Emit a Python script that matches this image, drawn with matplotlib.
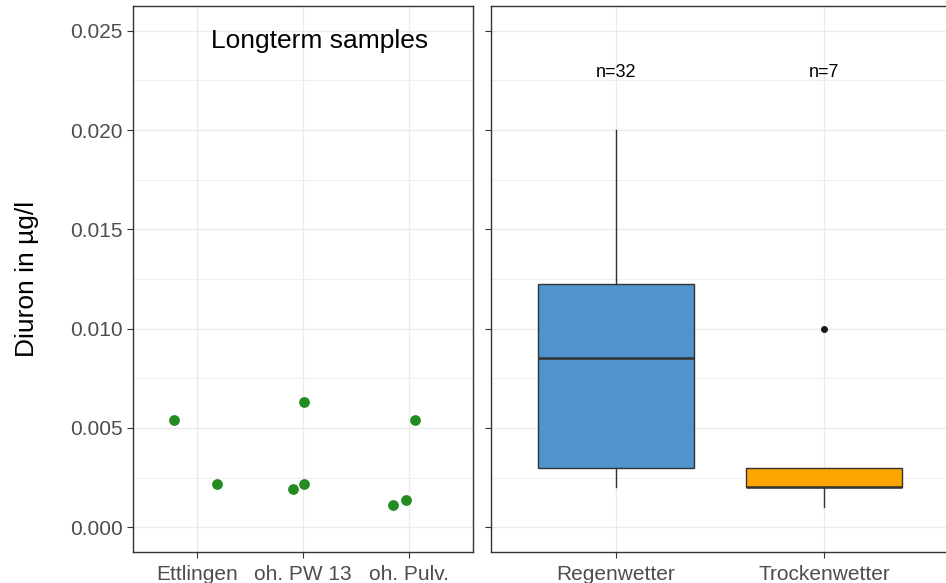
import numpy as np
import matplotlib.pyplot as plt
from matplotlib.ticker import MultipleLocator

plt.rcParams['font.family'] = ['Liberation Sans', 'DejaVu Sans']

# Longterm samples per site (value in ug/l, small horizontal jitter)
sites = ["Ettlingen", "oh. PW 13", "oh. Pulv."]
site_idx = [0, 0, 1, 1, 1, 2, 2, 2]
site_vals = [0.0054, 0.0022, 0.0063, 0.0019, 0.00215, 0.00112, 0.00135, 0.0054]
site_jitter = [-0.21, 0.19, 0.01, -0.09, 0.01, -0.15, -0.03, 0.05]

# Weather-type boxplot summaries
weather = ["Regenwetter", "Trockenwetter"]
n_samples = [32, 7]
q1 = [0.00296, 0.0020]
med = [0.0085, 0.0020]
q3 = [0.01223, 0.0030]
wlo = [0.0020, 0.0010]
whi = [0.0200, 0.0030]
outliers = [[], [0.0100]]
box_colors = ["#4F94CD", "#FFA500"]

W, H = 946, 583
fig = plt.figure(figsize=(W / 100, H / 100), dpi=100)
ax1 = fig.add_axes([133 / W, (H - 552) / H, (473 - 133) / W, (552 - 6) / H])
ax2 = fig.add_axes([491 / W, (H - 552) / H, (949 - 491) / W, (552 - 6) / H])

grid_c = "#EBEBEB"
edge_c = "#333333"
for ax in (ax1, ax2):
    ax.set_ylim(-0.00125, 0.02625)
    ax.yaxis.set_major_locator(MultipleLocator(0.005))
    ax.yaxis.set_minor_locator(MultipleLocator(0.0025))
    ax.grid(True, which="major", color=grid_c, linewidth=1.0, zorder=0)
    ax.grid(True, which="minor", axis="y", color=grid_c, linewidth=0.6, zorder=0)
    ax.set_axisbelow(True)
    for s in ax.spines.values():
        s.set_color(edge_c)
        s.set_linewidth(1.0)
    ax.tick_params(which="major", length=4, color=edge_c, labelcolor="#4D4D4D",
                   labelsize=15)
    ax.tick_params(axis="x", pad=5)
    ax.tick_params(which="minor", length=0)

# left panel: jittered points
xs = np.array(site_idx) + np.array(site_jitter)
ax1.scatter(xs, site_vals, s=60, color="#228B22", zorder=3, linewidths=0)
ax1.set_xlim(-0.6, 2.6)
ax1.set_xticks(range(len(sites)))
ax1.set_xticklabels(sites)
ax1.yaxis.set_major_formatter(plt.FuncFormatter(lambda v, p: f"{v:.3f}"))
ax1.text(1.16, 0.0245, "Longterm samples", ha="center", va="center", fontsize=19)
ax1.set_ylabel("Diuron in µg/l", fontsize=19, labelpad=22)

# right panel: boxplots
stats = []
for i in range(len(weather)):
    stats.append(dict(q1=q1[i], med=med[i], q3=q3[i], whislo=wlo[i],
                      whishi=whi[i], fliers=outliers[i], label=weather[i]))
bp = ax2.bxp(stats, positions=range(len(weather)), widths=0.75, patch_artist=True,
             showcaps=False,
             boxprops=dict(edgecolor=edge_c, linewidth=1.0),
             medianprops=dict(color=edge_c, linewidth=1.8),
             whiskerprops=dict(color=edge_c, linewidth=1.0),
             flierprops=dict(marker="o", markersize=4, markerfacecolor="#1A1A1A",
                             markeredgecolor="#1A1A1A"))
for patch, c in zip(bp["boxes"], box_colors):
    patch.set_facecolor(c)
    patch.set_zorder(2)
ax2.set_xlim(-0.6, 1.6)
ax2.set_xticks(range(len(weather)))
ax2.set_xticklabels(weather)
ax2.set_yticklabels([])
for i, n in enumerate(n_samples):
    ax2.text(i, 0.0229, f"n={n}", ha="center", va="center", fontsize=13)

fig.savefig("out.png", dpi=100)
